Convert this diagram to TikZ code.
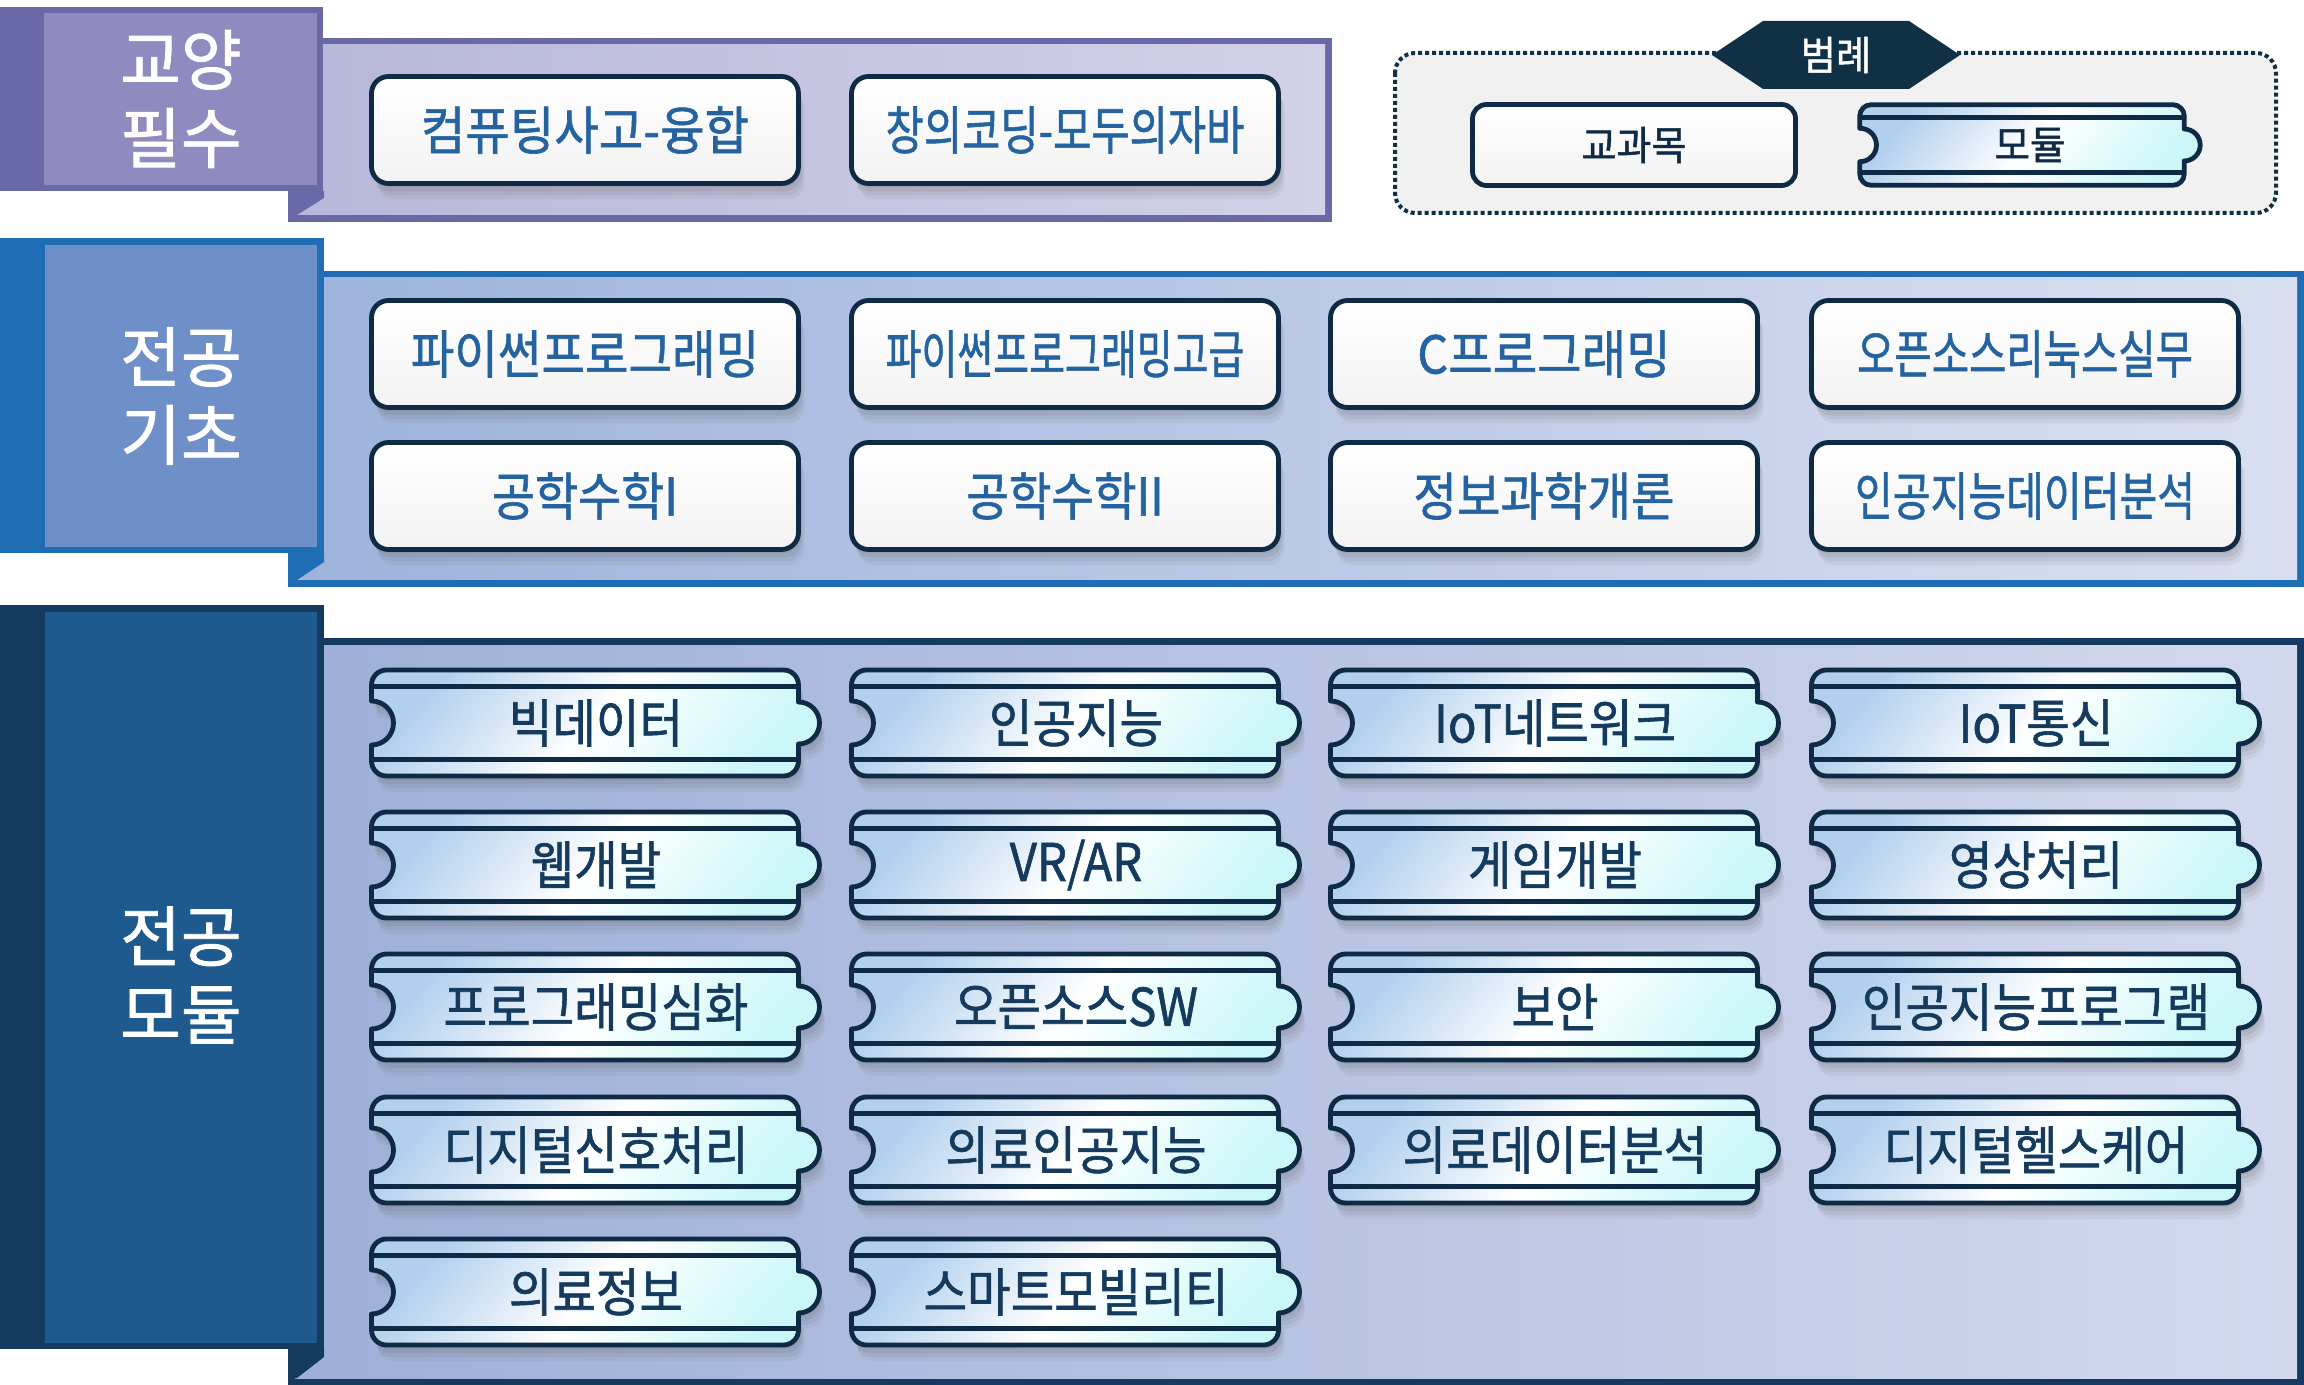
\documentclass[tikz,border=0pt]{standalone}
\usepackage{fontspec}
\usepackage{xcolor}
\usepackage{graphicx}
\usepackage{tikz}
\usetikzlibrary{shadows}
\newfontfamily\kr{Noto Sans CJK KR}[FakeBold=1.2]
\definecolor{navy}{HTML}{0F2A44}
\definecolor{txtblue}{HTML}{2563A0}
\definecolor{modtxt}{HTML}{143A5E}
\definecolor{gyA}{HTML}{6A69A8}
\definecolor{gyB}{HTML}{8F8BC0}
\definecolor{gyL}{HTML}{B7B7DA}
\definecolor{gyR}{HTML}{D2D1E8}
\definecolor{jgA}{HTML}{1F6DB5}
\definecolor{jgB}{HTML}{6E8FC7}
\definecolor{jgL}{HTML}{9DB3DB}
\definecolor{jgR}{HTML}{D9DFF1}
\definecolor{jmA}{HTML}{153A60}
\definecolor{jmB}{HTML}{1F5A8F}
\definecolor{jmL}{HTML}{9EB0D8}
\definecolor{jmR}{HTML}{D2D8EE}
\definecolor{modA}{HTML}{B2D0EE}
\definecolor{modC}{HTML}{CCF7F8}
\definecolor{lgfill}{HTML}{F1F1F1}
\definecolor{lgline}{HTML}{0F3045}

\begin{document}
\begin{tikzpicture}[x=0.5pt,y=-0.5pt,
		shadowed/.style={drop shadow={shadow xshift=.75pt,shadow yshift=-2pt,opacity=.12,fill=black!60},
			drop shadow={shadow xshift=1.5pt,shadow yshift=-4pt,opacity=.12,fill=black!60},
			drop shadow={shadow xshift=2.25pt,shadow yshift=-6pt,opacity=.1,fill=black!60},
			drop shadow={shadow xshift=3pt,shadow yshift=-8pt,opacity=.08,fill=black!60}},
		course/.style={shadowed,draw=navy,line width=2.4pt,rounded corners=8.5pt,
			minimum width=213.5pt,minimum height=53.5pt,inner sep=0pt,
			top color=white,bottom color=black!5,text=txtblue,font=\kr\fontsize{26}{26}\selectfont},
		modline/.style={draw=navy,line width=2.4pt,line join=round},
		modbody/.style={modline,shadowed,top color=modA,bottom color=modC,middle color=white,shading angle=50},
		mod/.style={minimum width=213.5pt,minimum height=53pt,inner sep=0pt,
			text=modtxt,font=\kr\fontsize{26}{26}\selectfont},
		tag/.style={text=white,align=center,font=\kr\fontsize{33}{39}\selectfont}]
	\def\nrw#1#2{\scalebox{#1}[1]{#2}}
	\def\modpath{
		\draw[modbody] (-198.5,-53) -- (198.5,-53) arc[start angle=-90,end angle=0,radius=15]
			-- (213.5,-21) arc[start angle=-90,end angle=90,radius=21]
			-- (213.5,38) arc[start angle=0,end angle=90,radius=15]
			-- (-198.5,53) arc[start angle=90,end angle=180,radius=15]
			-- (-213.5,22) arc[start angle=90,end angle=-90,radius=22]
			-- (-213.5,-38) arc[start angle=180,end angle=270,radius=15] -- cycle;
		\draw[modline] (-213.5,-36.5) -- (213.5,-36.5) (-213.5,36.5) -- (213.5,36.5);}
	\def\modbox#1#2#3{
		\begin{scope}[shift={#2}] \modpath \end{scope}
		\node[mod,xshift=5.5pt] (#1) at #2 {\nrw{.91}{#3}};}
	\useasboundingbox (0,0) rectangle (2304,1385);

	% 교양 필수
	\fill[gyA] (288,38) rectangle (1332,222);
	\fill[left color=gyL,right color=gyR] (295,45) rectangle (1325,215);
	\fill[gyA] (288,191) -- (324,191) -- (324,198) -- (297,215) -- (288,215) -- cycle;
	\fill[gyA] (0,7) rectangle (323,191);
	\fill[gyB] (44,13) rectangle (317,185);
	\node[tag] (gy) at (181,99) {교양\\필수};
	\node[course] (ct) at (585,130) {\nrw{.93}{컴퓨팅사고-융합}};
	\node[course] (cj) at (1065,130) {\nrw{.8}{창의코딩-모두의자바}};

	% 범례
	\draw[lgline,fill=lgfill,line width=2pt,dash pattern=on 2pt off 1.5pt,rounded corners=10pt] (1395,53) rectangle (2276,213);
	\fill[lgline] (1712,55) -- (1763,21) -- (1909,21) -- (1960,55) -- (1909,89) -- (1763,89) -- cycle;
	\node[text=white,font=\kr\fontsize{20}{20}\selectfont] (lg) at (1836,55) {\nrw{.96}{범례}};
	\node[shadowed/.style={},course,minimum width=161.5pt,minimum height=40.5pt,rounded corners=7pt,
		text=navy,font=\kr\fontsize{20}{20}\selectfont] (kc) at (1634,145) {\nrw{.95}{교과목}};
	\begin{scope}[shift={(2022,145)},scale=.76,shadowed/.style={}] \modpath \end{scope}
	\node[mod,minimum width=161.5pt,minimum height=40.5pt,xshift=4pt,text=navy,
		font=\kr\fontsize{20}{20}\selectfont] (km) at (2022,145) {\nrw{.97}{모듈}};

	% 전공 기초
	\fill[jgA] (288,271) rectangle (2304,587);
	\fill[left color=jgL,right color=jgR] (295,278) rectangle (2297,580);
	\fill[jgA] (288,553) -- (324,553) -- (324,562) -- (297,580) -- (288,580) -- cycle;
	\fill[jgA] (0,238) rectangle (324,553);
	\fill[jgB] (45,245) rectangle (317,547);
	\node[tag] (jg) at (181,396) {전공\\기초};
	\node[course] (py) at (585,354) {\nrw{.91}{파이썬프로그래밍}};
	\node[course] (pa) at (1065,354) {\nrw{.75}{파이썬프로그래밍고급}};
	\node[course] (cp) at (1544,354) {\nrw{.93}{C프로그래밍}};
	\node[course] (os) at (2025,354) {\nrw{.78}{오픈소스리눅스실무}};
	\node[course] (ma) at (585,496) {\nrw{.9}{공학수학I}};
	\node[course] (mb) at (1065,496) {\nrw{.89}{공학수학II}};
	\node[course] (is) at (1544,496) {\nrw{.91}{정보과학개론}};
	\node[course] (ad) at (2025,496) {\nrw{.79}{인공지능데이터분석}};

	% 전공 모듈
	\fill[jmA] (288,638) rectangle (2304,1385);
	\fill[left color=jmL,right color=jmR] (295,645) rectangle (2297,1378);
	\fill[jmA] (288,1349) -- (324,1349) -- (324,1357) -- (297,1378) -- (288,1378) -- cycle;
	\fill[jmA] (0,605) rectangle (324,1349);
	\fill[jmB] (45,612) rectangle (317,1343);
	\node[tag] (jm) at (181,975) {전공\\모듈};
	\modbox{bd}{(585,723)}{빅데이터}
	\modbox{ai}{(1065,723)}{인공지능}
	\modbox{iotn}{(1544,723)}{IoT네트워크}
	\modbox{iotc}{(2025,723)}{IoT통신}
	\modbox{web}{(585,865)}{웹개발}
	\modbox{vr}{(1065,865)}{VR/AR}
	\modbox{game}{(1544,865)}{게임개발}
	\modbox{img}{(2025,865)}{영상처리}
	\modbox{prog}{(585,1007)}{프로그래밍심화}
	\modbox{oss}{(1065,1007)}{오픈소스SW}
	\modbox{sec}{(1544,1007)}{보안}
	\modbox{aip}{(2025,1007)}{인공지능프로그램}
	\modbox{dsp}{(585,1150)}{디지털신호처리}
	\modbox{mai}{(1065,1150)}{의료인공지능}
	\modbox{mda}{(1544,1150)}{의료데이터분석}
	\modbox{dh}{(2025,1150)}{디지털헬스케어}
	\modbox{mi}{(585,1292)}{의료정보}
	\modbox{sm}{(1065,1292)}{스마트모빌리티}
\end{tikzpicture}
\end{document}
